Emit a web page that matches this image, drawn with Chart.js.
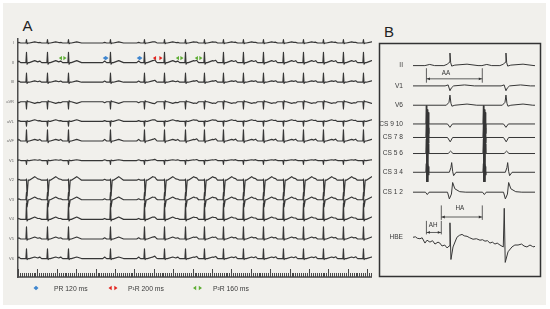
<!DOCTYPE html>
<html>
<head>
<meta charset="utf-8">
<script src="https://cdn.jsdelivr.net/npm/chart.js@4/dist/chart.umd.min.js"></script>
<style>
  html, body { margin: 0; padding: 0; background: #fff; }
  #page { position: relative; width: 550px; height: 309px; overflow: hidden; background: #fff; }
  #sheet { position: absolute; left: 3px; top: 3px; width: 543px; height: 302px; background: #f1f0ec; }
  .tag { position: absolute; font: 15px "Liberation Sans", Arial, sans-serif; color: #222; line-height: 1; }
  #cA { position: absolute; left: 0; top: 0; }
  #cB { position: absolute; left: 372px; top: 33px; }
  .leg { position: absolute; top: 284px; font: 6.8px "Liberation Sans", Arial, sans-serif; color: #3a3a3a; white-space: nowrap; line-height: 9px; }
</style>
</head>
<body>
<div id="page">
  <div id="sheet"></div>
  <div class="tag" style="left:22.5px;top:18px;">A</div>
  <div class="tag" style="left:384px;top:24px;">B</div>
  <canvas id="cA" width="380" height="300"></canvas>
  <canvas id="cB" width="172" height="254"></canvas>
  <div class="leg" id="leg0" style="left:54px;"></div>
  <div class="leg" id="leg1" style="left:128px;"></div>
  <div class="leg" id="leg2" style="left:213px;"></div>
</div>
<script>
// ---------------- Panel A: 12-lead surface ECG ----------------
const leadNamesA = ['I', 'II', 'III', 'aVR', 'aVL', 'aVF', 'V1', 'V2', 'V3', 'V4', 'V5', 'V6'];
// R-peak times (ms)
const beatTimes = [175, 608, 1041, 1907, 2608, 3021, 3454, 3845, 4237, 4649, 5062, 5474, 5887, 6299, 6711, 7124];
// PR / P'R interval preceding each beat (ms)
const prIntervals = [160, 160, 160, 120, 120, 200, 160, 160, 160, 160, 160, 160, 160, 160, 160, 160];
// beats whose PR interval is marked on lead II
const markedBeats = [2, 3, 4, 5, 6, 7];
// per-lead wave amplitudes (lane units)
const pWave = [0.03, 0.08, 0.06, -0.05, 0.04, 0.08, 0.04, 0.05, 0.05, 0.05, 0.06, 0.08];
const rWave = [0.17, 0.53, 0.46, -0.36, -0.24, 0.57, -0.2, 0.06, 0.38, 0.82, 0.62, 0.5];
const sWave = [-0.04, -0.08, -0.06, 0.05, 0.04, -0.08, 0.03, -0.8, -0.36, -0.08, -0.06, -0.05];
const tWave = [0.06, 0.1, 0.07, -0.08, 0.08, 0.08, 0.04, 0.18, 0.14, 0.12, 0.1, 0.08];
// legend
const legendLabels = ['PR 120 ms', 'P\u00B9R 200 ms', 'P\u00B2R 160 ms'];
const legendIntervals = [120, 200, 160];

// ---------------- Panel B: intracardiac recordings ----------------
const leadNamesB = ['II', 'V1', 'V6', 'CS 9 10', 'CS 7 8', 'CS 5 6', 'CS 3 4', 'CS 1 2', 'HBE'];
const csAtrialTimes = [117, 585];
const ventTimesB = [303, 762];
const hbeAtrialTimes = [110, 568];
const hisTimes = [232];
// deflection shapes per channel: [ms from event, amplitude]
const atrialWaveB = [
  [[-20, 0], [20, 0.12], [60, 0]],
  null,
  null,
  [[-12, 0], [-8, 1.9], [-4, -1.6], [0, 1.5], [4, -1.4], [8, 1.2], [11, -1.0], [14, 0]],
  [[-12, 0], [-8, 1.4], [-4, -1.5], [0, 1.4], [4, -1.3], [8, 1.0], [11, -0.6], [14, 0]],
  [[-12, 0], [-8, 1.5], [-4, -1.8], [0, 1.4], [4, -1.5], [8, 1.0], [12, 0]],
  [[-12, 0], [-8, 0.9], [-4, -1.0], [0, 0.8], [4, -1.0], [8, 0.6], [11, -0.3], [14, 0]],
  [[-15, 0], [0, -0.25], [15, 0]],
  null
];
const ventWaveB = [
  [[-50, 0], [-20, 0.15], [-6, 0.35], [0, 1.3], [6, 0.3], [14, -0.05], [40, 0.05], [140, 0.15], [230, 0]],
  [[-40, 0], [-15, 0.1], [0, -0.5], [12, -0.2], [30, 0], [120, 0.1], [200, 0]],
  [[-30, 0], [-8, 0.3], [0, 1.05], [8, 0.2], [16, -0.1], [40, 0], [140, 0.12], [220, 0]],
  [[-20, 0], [0, -0.35], [20, 0]],
  [[-20, 0], [2, -0.45], [22, 0]],
  [[-15, 0], [5, 0.25], [25, 0]],
  [[-5, 0], [8, 0.5], [14, 1.0], [22, 0.1], [30, -0.35], [50, 0]],
  [[-20, 0], [-5, -0.7], [12, -0.2], [22, 1.0], [40, 0.35], [80, 0.05], [130, 0]],
  null
];
// His bundle electrogram samples [ms, amplitude]
const hbeTrace = [
  [0, 0], [20, 0.05], [35, -0.1], [57, -0.15], [75, -0.05], [98, -0.6], [115, -0.3], [139, -0.5],
  [160, -0.35], [180, -0.7], [205, -0.5], [220, -0.6], [238, -0.9], [260, -0.8], [279, -1.1],
  [297, -0.9], [303, 1.5], [311, -2.3], [328, -1.0], [360, 0], [380, 0.2], [402, 0.3], [420, 0.15],
  [443, 0.1], [465, -0.05], [492, -0.2], [520, -0.15], [549, -0.3], [570, -0.25], [590, -0.4],
  [610, -0.35], [631, -0.6], [650, -0.5], [672, -0.7], [690, -0.6], [713, -0.8], [740, -1.0],
  [748, 3.0], [756, -2.6], [779, -1.5], [811, -1.0], [835, -0.8], [861, -0.8], [890, -0.7],
  [910, -0.9], [934, -1.0], [959, -0.8], [980, -0.95], [992, -1.0], [1000, -0.9]
];

// ---------------- helpers ----------------
const X_MAX_A = 7300;
const X_MAX_B = 1000;
const TRACE = '#363636';
const PR_COLORS = { 120: '#3f86cf', 200: '#e3241e', 160: '#5fae35' };

function shift(knots, t0) { return knots.map(([t, v]) => [t + t0, v]); }
function valueAt(knots, t) {
  if (t <= knots[0][0] || t >= knots[knots.length - 1][0]) return 0;
  for (let i = 0; i < knots.length - 1; i++) {
    const [t1, v1] = knots[i], [t2, v2] = knots[i + 1];
    if (t >= t1 && t <= t2) return t2 === t1 ? v2 : v1 + (v2 - v1) * (t - t1) / (t2 - t1);
  }
  return 0;
}
function sumKnots(events, xmin, xmax, base) {
  const ts = new Set([xmin, xmax]);
  events.forEach(k => k.forEach(([t]) => { if (t >= xmin && t <= xmax) ts.add(t); }));
  return [...ts].sort((a, b) => a - b)
    .map(t => ({ x: t, y: base + events.reduce((s, k) => s + valueAt(k, t), 0) }));
}

function traceA(lead) {
  const events = [];
  beatTimes.forEach((t0, b) => {
    events.push(shift([[-40, 0], [0, pWave[lead]], [40, 0]], t0 - prIntervals[b]));
    events.push(shift([[-12, 0], [0, rWave[lead]], [12, sWave[lead]], [36, 0]], t0));
    events.push(shift([[60, 0], [170, tWave[lead]], [270, 0]], t0));
  });
  return sumKnots(events, 0, X_MAX_A, -lead);
}

// lane baselines for panel B (10 px units below the frame top)
const laneYB = [-1.93, -4.03, -6.03, -7.97, -9.37, -11.03, -12.97, -15.03, -19.7];
function traceB(ch) {
  if (ch === leadNamesB.length - 1) return hbeTrace.map(([t, v]) => ({ x: t, y: laneYB[ch] + v }));
  const events = [];
  if (atrialWaveB[ch]) csAtrialTimes.forEach(t0 => events.push(shift(atrialWaveB[ch], t0)));
  if (ventWaveB[ch]) ventTimesB.forEach(t0 => events.push(shift(ventWaveB[ch], t0)));
  return sumKnots(events, 0, X_MAX_B, laneYB[ch]);
}

function doubleArrow(ctx, x0, x1, y, color) {
  const h = Math.min(3.2, (x1 - x0) / 2), hh = 2.2;
  ctx.fillStyle = color;
  ctx.beginPath();
  ctx.moveTo(x0, y); ctx.lineTo(x0 + h, y - hh); ctx.lineTo(x0 + h, y + hh); ctx.closePath();
  ctx.moveTo(x1, y); ctx.lineTo(x1 - h, y - hh); ctx.lineTo(x1 - h, y + hh); ctx.closePath();
  ctx.fill();
}

// ---------------- panel A chart ----------------
const rulerStep = 40, rulerMajorEvery = 10;
const panelADecor = {
  id: 'panelADecor',
  afterDatasetsDraw(chart) {
    const { ctx, scales: { x, y }, chartArea: a } = chart;
    ctx.save();
    // time ruler
    ctx.strokeStyle = '#474747';
    ctx.lineWidth = 1;
    ctx.beginPath();
    for (let i = 0; i * rulerStep <= X_MAX_A; i++) {
      const px = Math.round(x.getPixelForValue(i * rulerStep)) + 0.5;
      const len = i % rulerMajorEvery === 0 ? 8 : 4;
      ctx.moveTo(px, a.bottom - len);
      ctx.lineTo(px, a.bottom);
    }
    ctx.stroke();
    ctx.lineWidth = 1.5;
    ctx.beginPath();
    ctx.moveTo(a.left, a.bottom);
    ctx.lineTo(a.right, a.bottom);
    ctx.stroke();
    // PR markers on lead II
    const yArrow = y.getPixelForValue(-1 + 0.23);
    markedBeats.forEach(b => {
      const pr = prIntervals[b];
      const x0 = x.getPixelForValue(beatTimes[b] - 40 - pr);
      const x1 = x.getPixelForValue(beatTimes[b] - 40);
      doubleArrow(ctx, x0, x1, yArrow, PR_COLORS[pr]);
    });
    // legend symbols
    const legX = [36, 113, 197.5], legW = [5, 9, 9];
    legendIntervals.forEach((pr, i) => {
      doubleArrow(ctx, legX[i] - legW[i] / 2, legX[i] + legW[i] / 2, 288, PR_COLORS[pr]);
    });
    ctx.restore();
  }
};

new Chart(document.getElementById('cA'), {
  type: 'line',
  data: {
    datasets: leadNamesA.map((name, i) => ({
      label: name,
      data: traceA(i),
      borderColor: TRACE,
      borderWidth: 1.15,
      pointRadius: 0,
      tension: 0,
      borderJoinStyle: 'round'
    }))
  },
  options: {
    responsive: false,
    animation: false,
    events: [],
    parsing: false,
    layout: { padding: { left: 0, right: 8, top: 39, bottom: 23 } },
    plugins: { legend: { display: false }, tooltip: { enabled: false } },
    scales: {
      x: { type: 'linear', min: 0, max: X_MAX_A, display: false },
      y: {
        type: 'linear', min: -11.94, max: 0.204,
        afterFit: s => { s.width = 18; },
        afterBuildTicks: s => { s.ticks = leadNamesA.map((_, i) => ({ value: -i })); },
        grid: { display: false, drawTicks: false },
        border: { display: true, color: '#4d4d4d', width: 1.5 },
        ticks: {
          autoSkip: false, padding: 4, color: '#6a6a6a',
          font: { size: 4, family: '"Liberation Sans", Arial, sans-serif' },
          callback: v => leadNamesA[Math.round(-v)]
        }
      }
    }
  },
  plugins: [panelADecor]
});

legendLabels.forEach((t, i) => { document.getElementById('leg' + i).textContent = t; });

// ---------------- panel B chart ----------------
const brackets = [
  { label: 'AA', from: () => hbeAtrialTimes[0], to: () => hbeAtrialTimes[1], line: -3.3, top: -2.2, bottom: -3.7, text: -2.7, at: 0.35 },
  { label: 'HA', from: () => hisTimes[0], to: () => hbeAtrialTimes[1], line: -17.6, top: -16.4, bottom: -17.9, text: -16.65, at: 0.45 },
  { label: 'AH', from: () => hbeAtrialTimes[0], to: () => hisTimes[0], line: -19.2, top: -18.0, bottom: -19.4, text: -18.45, at: 0.45 }
];
const panelBDecor = {
  id: 'panelBDecor',
  beforeDatasetsDraw(chart) {
    const { ctx } = chart;
    ctx.save();
    ctx.strokeStyle = '#333';
    ctx.lineWidth = 1.5;
    ctx.strokeRect(7.5, 10.5, 161, 233);
    ctx.restore();
  },
  afterDatasetsDraw(chart) {
    const { ctx, scales: { x, y } } = chart;
    ctx.save();
    ctx.strokeStyle = '#3a3a3a';
    ctx.lineWidth = 0.8;
    ctx.font = '6.3px "Liberation Sans", Arial, sans-serif';
    ctx.textAlign = 'center';
    ctx.textBaseline = 'middle';
    brackets.forEach(br => {
      const x0 = x.getPixelForValue(br.from()), x1 = x.getPixelForValue(br.to());
      const yl = y.getPixelForValue(br.line);
      ctx.beginPath();
      ctx.moveTo(x0, yl); ctx.lineTo(x1, yl);
      [x0, x1].forEach(px => {
        ctx.moveTo(px, y.getPixelForValue(br.top));
        ctx.lineTo(px, y.getPixelForValue(br.bottom));
      });
      ctx.stroke();
      ctx.fillStyle = '#333';
      ctx.beginPath();
      ctx.moveTo(x0 + 0.5, yl); ctx.lineTo(x0 + 3.5, yl - 1.4); ctx.lineTo(x0 + 3.5, yl + 1.4); ctx.closePath();
      ctx.moveTo(x1 - 0.5, yl); ctx.lineTo(x1 - 3.5, yl - 1.4); ctx.lineTo(x1 - 3.5, yl + 1.4); ctx.closePath();
      ctx.fill();
      ctx.fillText(br.label, x0 + (x1 - x0) * br.at, y.getPixelForValue(br.text));
    });
    ctx.restore();
  }
};

new Chart(document.getElementById('cB'), {
  type: 'line',
  data: {
    datasets: leadNamesB.map((name, i) => ({
      label: name,
      data: traceB(i),
      borderColor: TRACE,
      borderWidth: 1,
      pointRadius: 0,
      tension: 0,
      borderJoinStyle: 'round'
    }))
  },
  options: {
    responsive: false,
    animation: false,
    events: [],
    parsing: false,
    layout: { padding: { left: 0, right: 9, top: 10, bottom: 10 } },
    plugins: { legend: { display: false }, tooltip: { enabled: false } },
    scales: {
      x: { type: 'linear', min: 0, max: X_MAX_B, display: false },
      y: {
        type: 'linear', min: -23.4, max: 0,
        afterFit: s => { s.width = 41; },
        afterBuildTicks: s => { s.ticks = laneYB.map(v => ({ value: v })); },
        grid: { display: false, drawTicks: false },
        border: { display: false },
        ticks: {
          autoSkip: false, padding: 10, color: '#3a3a3a',
          font: { size: 6.6, family: '"Liberation Sans", Arial, sans-serif' },
          callback: (v, i) => leadNamesB[i]
        }
      }
    }
  },
  plugins: [panelBDecor]
});
</script>
</body>
</html>
